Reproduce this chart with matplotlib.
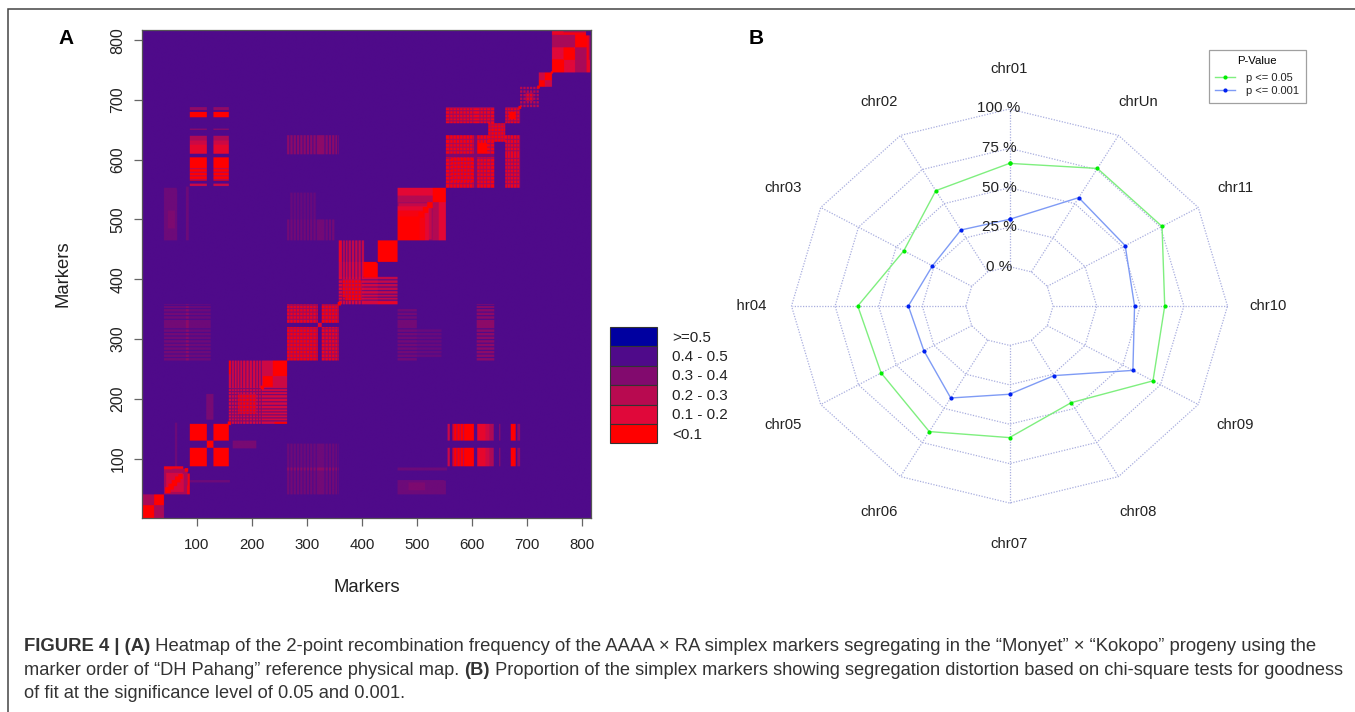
import numpy as np
import matplotlib
matplotlib.use("Agg")
import matplotlib.pyplot as plt
from matplotlib.colors import LinearSegmentedColormap, Normalize
from matplotlib.patches import Rectangle
from matplotlib.transforms import Bbox

plt.rcParams['font.family'] = ['Liberation Sans', 'DejaVu Sans']

# ---------- data ----------
N_MARKERS = 817
LEGEND_LABELS = [">=0.5", "0.4 - 0.5", "0.3 - 0.4", "0.2 - 0.3", "0.1 - 0.2", "<0.1"]
LEGEND_COLORS = ["#0000A0", "#4F0A8A", "#820A6E", "#B80A50", "#E0083A", "#FF0000"]
LEGEND_MIDS = [0.55, 0.45, 0.35, 0.25, 0.15, 0.05]
BACKGROUND = 0.45

# stripes (marker positions)
S_A = [560, 566, 572, 578, 584, 590, 596]
S_B = [559, 565, 571, 577, 583, 589, 595, 601, 614, 620, 626, 633]
S_C = [268, 274, 280, 286, 292, 298, 304, 310, 316, 332, 338, 344, 350, 355]
S_D = [162, 167, 172, 177, 182, 188, 194, 200, 206, 211, 216]
S_E = [364, 369, 374, 380, 386, 392, 398]
S_G = [664, 669, 675, 681, 686]
S_H = [634, 640, 646, 652, 657]
S_I = [692, 698, 704, 710, 716]

# x0, x1, y0, y1, value, x stripes, y stripes (mirrored around the diagonal)
WEAK_BLOCKS = [
    (264, 358, 610, 640, 0.34, S_C, ()),
    (264, 358, 40, 85, 0.33, S_C, ()),
    (465, 553, 40, 63, 0.39, (), ()),
    (480, 525, 42, 60, 0.34, (), ()),
    (465, 520, 83, 85, 0.36, (), ()),
    (40, 64, 465, 550, 0.39, (), ()),
    (47, 60, 485, 515, 0.36, (), ()),
    (80, 85, 465, 555, 0.39, (), ()),
    (40, 80, 264, 358, 0.38, (), S_C),
    (465, 545, 270, 318, 0.4, (), S_C),
    (609, 641, 264, 358, 0.33, (), S_C),
    (264, 350, 465, 500, 0.38, S_C, ()),
    (165, 208, 117, 130, 0.37, (), ()),
    (87, 160, 60, 64, 0.39, (), ()),
    (264, 358, 85, 125, 0.39, S_C, ()),
]
STRONG_BLOCKS = [
    # long-range links of the 87-158 group
    (87, 118, 671, 680, 0.05, (), ()), (130, 158, 671, 680, 0.05, (), ()),
    (87, 118, 683, 688, 0.32, (), ()), (130, 158, 683, 688, 0.32, (), ()),
    (87, 118, 650, 652, 0.32, (), ()), (130, 158, 650, 652, 0.32, (), ()),
    (87, 118, 632, 640, 0.27, (), ()), (130, 158, 632, 640, 0.27, (), ()),
    (87, 118, 625, 632, 0.2, (), ()), (130, 158, 625, 632, 0.2, (), ()),
    (87, 118, 610, 625, 0.13, (), ()), (130, 158, 610, 625, 0.13, (), ()),
    (87, 118, 589, 604, 0.05, (), ()), (130, 158, 589, 604, 0.05, (), ()),
    (87, 118, 565, 589, 0.05, (), S_A), (130, 158, 565, 589, 0.05, (), S_A),
    (87, 118, 556, 560, 0.2, (), ()), (130, 158, 556, 560, 0.2, (), ()),
    # first chromosome blocks
    (0, 22, 22, 40, 0.28, (), ()),
    (40, 78, 40, 83, 0.28, (), ()),
    (44, 74, 44, 76, 0.18, (), ()),
    (40, 75, 83, 87, 0.08, (), ()),
    (82, 87, 40, 55, 0.08, (), ()),
    (87, 118, 87, 118, 0.05, (), ()),
    (130, 158, 130, 158, 0.05, (), ()),
    (87, 118, 130, 158, 0.05, (), ()),
    (118, 130, 118, 130, 0.05, (), ()),
    # 158-264
    (158, 220, 158, 218, 0.16, S_D, S_D),
    (175, 208, 175, 208, 0.06, S_D, S_D),
    (158, 220, 220, 264, 0.2, S_D, ()),
    (220, 264, 158, 218, 0.18, (), S_D),
    (241, 264, 158, 161, 0.05, (), ()),
    (220, 238, 220, 238, 0.05, (), ()),
    (238, 264, 238, 264, 0.05, (), ()),
    (220, 238, 238, 264, 0.2, (), ()),
    # 264-358
    (264, 320, 264, 320, 0.07, S_C, S_C),
    (327, 358, 264, 320, 0.1, S_C, S_C),
    (264, 320, 327, 358, 0.1, S_C, S_C),
    (327, 358, 327, 358, 0.07, S_C, S_C),
    (320, 327, 320, 327, 0.12, (), ()),
    # 358-465
    (358, 404, 358, 403, 0.16, S_E, S_E),
    (370, 400, 365, 398, 0.05, S_E, S_E),
    (404, 429, 358, 403, 0.18, (), S_E),
    (404, 429, 403, 427, 0.05, (), ()),
    (358, 404, 429, 465, 0.28, S_E, ()),
    (429, 465, 358, 404, 0.22, (), S_E),
    (429, 465, 358, 363, 0.12, (), ()),
    (429, 465, 429, 465, 0.05, (), ()),
    # 465-553
    (465, 529, 465, 529, 0.3, (), ()),
    (467, 527, 467, 527, 0.22, (), ()),
    (465, 522, 465, 522, 0.14, (), ()),
    (465, 515, 465, 515, 0.08, (), ()),
    (465, 505, 465, 505, 0.05, (), ()),
    (529, 553, 465, 527, 0.3, (), ()),
    (538, 553, 465, 527, 0.22, (), ()),
    (546, 553, 465, 527, 0.13, (), ()),
    (529, 553, 465, 475, 0.1, (), ()),
    (465, 529, 540, 553, 0.14, (), ()),
    (465, 529, 529, 540, 0.26, (), ()),
    (529, 553, 529, 553, 0.05, (), ()),
    # 553-688
    (553, 641, 553, 641, 0.08, S_B, S_B),
    (563, 603, 563, 603, 0.05, S_A, S_A),
    (611, 628, 610, 627, 0.05, (), ()),
    (553, 641, 604, 610, 0.06, (), ()),
    (604, 610, 553, 641, 0.36, (), ()),
    (553, 641, 661, 688, 0.14, S_B, S_G),
    (563, 620, 668, 680, 0.06, S_B, ()),
    (661, 688, 553, 641, 0.1, S_G, S_B),
    (630, 661, 630, 661, 0.06, S_H, S_H),
    (661, 688, 661, 688, 0.1, S_G, S_G),
    (668, 680, 668, 680, 0.05, (), ()),
    # 688-816
    (688, 722, 688, 722, 0.24, S_I, S_I),
    (698, 712, 698, 712, 0.1, S_I, S_I),
    (722, 733, 722, 733, 0.05, (), ()),
    (733, 746, 733, 746, 0.05, (), ()),
    (722, 733, 733, 746, 0.2, (), ()),
    (746, 816, 746, 808, 0.28, (), ()),
    (746, 788, 746, 788, 0.15, (), ()),
    (746, 768, 746, 767, 0.05, (), ()),
    (768, 788, 767, 786, 0.05, (), ()),
    (788, 809, 788, 808, 0.05, (), ()),
    (746, 808, 809, 813, 0.08, (), ()),
    (810, 815, 746, 767, 0.12, (), ()),
    (0, 22, 0, 22, 0.05, (), ()),
    (22, 40, 22, 40, 0.05, (), ()),
]
DIAG_STEPS = [(42, 52, 0.05), (48, 58, 0.05), (54, 64, 0.05), (60, 70, 0.05),
              (66, 74, 0.05), (78, 84, 0.05), (156, 162, 0.05), (216, 222, 0.05),
              (356, 362, 0.05), (685, 690, 0.05), (719, 724, 0.05), (744, 748, 0.05),
              (503, 513, 0.05), (511, 521, 0.05), (519, 529, 0.05)]

CHROMS = ["chr01", "chr02", "chr03", "chr04", "chr05", "chr06",
          "chr07", "chr08", "chr09", "chr10", "chr11", "chrUn"]
P005 = [65.5, 59.5, 45, 62, 60, 67, 58.5, 45.8, 70, 64, 76, 75.8]
P0001 = [30, 30.7, 26, 33, 31.7, 42.4, 31, 26, 56.7, 46.7, 51.6, 54.4]
RING_LEVELS = [0, 25, 50, 75, 100]
RING_LABELS = ["0 %", "25 %", "50 %", "75 %", "100 %"]
SERIES_NAMES = ["p <= 0.05", "p <= 0.001"]

CAPTION = [
    [("FIGURE 4 | (A)", True),
     (" Heatmap of the 2-point recombination frequency of the AAAA \u00d7 RA simplex markers segregating in the \u201cMonyet\u201d \u00d7 \u201cKokopo\u201d progeny using the", False)],
    [("marker order of \u201cDH Pahang\u201d reference physical map. ", False), ("(B)", True),
     (" Proportion of the simplex markers showing segregation distortion based on chi-square tests for goodness", False)],
    [("of fit at the significance level of 0.05 and 0.001.", False)],
]
CAPTION_SIZES = [13.3, 13.15, 13.15]

# ---------- helpers ----------
W, H = 1355, 712
fig = plt.figure(figsize=(W / 100, H / 100), dpi=100, facecolor="white")


def axes_px(left, top, right, bottom, **kw):
    return fig.add_axes([left / W, 1 - bottom / H, (right - left) / W, (bottom - top) / H], **kw)


ov = axes_px(0, 0, W, H, zorder=0)
ov.set_xlim(0, W)
ov.set_ylim(H, 0)
ov.axis("off")

# outer frame
ov.plot([8, 8, W], [H, 9, 9], color="#444444", lw=1.1, solid_joinstyle="miter")

# ---------- heatmap ----------
M = np.full((N_MARKERS, N_MARKERS), BACKGROUND)


def put(x0, x1, y0, y1, v, sx=(), sy=()):
    raised = min(v + 0.2, BACKGROUND)
    for (a0, a1, b0, b1, sa, sb) in ((x0, x1, y0, y1, sx, sy), (y0, y1, x0, x1, sy, sx)):
        M[b0:b1, a0:a1] = v
        for s in sa:
            if a0 <= s < a1:
                M[b0:b1, s:s + 2] = raised
        for s in sb:
            if b0 <= s < b1:
                M[s:s + 2, a0:a1] = raised


for b in WEAK_BLOCKS + STRONG_BLOCKS:
    put(*b)
for a, b, v in DIAG_STEPS:
    put(a, b, a, b, v)

norm = Normalize(0.05, 0.55)
nodes = [(norm(v), c) for v, c in sorted(zip(LEGEND_MIDS, LEGEND_COLORS))]
cmap = LinearSegmentedColormap.from_list("rf", nodes)
ax = axes_px(142, 30, 591, 518, zorder=2)
ax.imshow(M, origin="lower", aspect="auto", extent=(0, N_MARKERS, 0, N_MARKERS),
          cmap=cmap, norm=norm, interpolation="hanning", interpolation_stage="rgba")
ax.set_xlim(0, N_MARKERS)
ax.set_ylim(0.5, N_MARKERS)
ticks = [100, 200, 300, 400, 500, 600, 700, 800]
ax.set_xticks(ticks, [str(t) for t in ticks])
ax.set_yticks(ticks, [str(t) for t in ticks])
ax.tick_params(axis="x", length=6, width=0.9, color="#666666", labelsize=10.8, pad=8.5, labelcolor="#222222")
ax.tick_params(axis="y", length=6, width=0.9, color="#666666", labelsize=11.5, pad=6, labelcolor="#222222")
for t in ax.get_yticklabels():
    t.set_rotation(90)
    t.set_va("center")
for s in ax.spines.values():
    s.set_color("#555555")
    s.set_linewidth(0.9)

ov.text(367, 587, "Markers", ha="center", va="center", fontsize=13.3, color="#222222")
ov.text(63, 274, "Markers", ha="center", va="center", rotation=90, fontsize=13.3, color="#222222")
ov.text(66, 38, "A", ha="center", va="center", fontsize=15, fontweight="bold", color="black")
ov.text(756, 38, "B", ha="center", va="center", fontsize=15, fontweight="bold", color="black")

# colour legend
sw_top, sw_h = 327, 19.4
for i, (lab, col) in enumerate(zip(LEGEND_LABELS, LEGEND_COLORS)):
    y = sw_top + i * sw_h
    ov.add_patch(Rectangle((610, y), 47, sw_h, facecolor=col, edgecolor="#333333", lw=0.8))
    ov.text(672, y + sw_h / 2 + 1, lab, ha="left", va="center", fontsize=11, color="#222222")

# ---------- radar ----------
CX, CY, RX, RY = 1009.5, 306, 218, 197
rad = axes_px(CX - RX, CY - RY, CX + RX, CY + RY, zorder=3)
rad.set_xlim(-1, 1)
rad.set_ylim(-1, 1)
rad.axis("off")
rad.patch.set_alpha(0)
n = len(CHROMS)
ang = np.pi / 2 + np.arange(n) * 2 * np.pi / n
R0 = 0.2


def radius(v):
    return R0 + (1 - R0) * np.asarray(v, dtype=float) / 100


GRID = "#A9AEDF"
for lev in RING_LEVELS:
    r = radius(lev)
    rad.plot(np.r_[r * np.cos(ang), r * np.cos(ang[0])], np.r_[r * np.sin(ang), r * np.sin(ang[0])],
             color=GRID, lw=0.9, ls=(0, (1, 1.2)), clip_on=False)
for a in ang:
    rad.plot([R0 * np.cos(a), np.cos(a)], [R0 * np.sin(a), np.sin(a)],
             color=GRID, lw=0.9, ls=(0, (1, 1.2)), clip_on=False)

handles = []
for vals, lc, mc, name in ((P005, "#7FEF7F", "#00EE00", SERIES_NAMES[0]),
                           (P0001, "#7F9BF5", "#0020F0", SERIES_NAMES[1])):
    r = radius(vals)
    h, = rad.plot(np.r_[r * np.cos(ang), r[0] * np.cos(ang[0])], np.r_[r * np.sin(ang), r[0] * np.sin(ang[0])],
                  color=lc, lw=1.0, marker="o", ms=3, mfc=mc, mew=0, clip_on=False, label=name)
    handles.append(h)

leg = rad.legend(handles=handles, title="P-Value", loc="upper left",
                 bbox_to_anchor=(1208.5 / W, 1 - 49.5 / H), bbox_transform=fig.transFigure,
                 fontsize=8, title_fontsize=8.2, frameon=True, fancybox=False, framealpha=1,
                 edgecolor="#A0A0A0", borderpad=0.6, labelspacing=0.25, handlelength=1.8,
                 handletextpad=1.0, borderaxespad=0)
leg.get_frame().set_linewidth(0.9)
leg._legend_box.sep = 5
for t in leg.get_texts():
    t.set_color("#222222")

LABEL_POS = [(1009, 69), (879, 102), (783, 188), (748, 306), (783, 425), (879, 512),
             (1009, 544), (1138, 512), (1235, 425), (1268, 306), (1235, 188), (1138, 102)]
for name, (x, y) in zip(CHROMS, LABEL_POS):
    t = ov.text(x, y, name, ha="center", va="center", fontsize=10.7, color="#222222", zorder=4)
    if name == "chr04":
        t.set_clip_on(True)
        t.set_clip_box(Bbox([[737, 0], [W, H]]))
for lab, y in zip(RING_LABELS, [267, 227, 188, 148, 108]):
    fig.text(999 / W, 1 - y / H, lab, ha="center", va="center", fontsize=11, color="#222222", zorder=6)

# ---------- caption ----------
fig.canvas.draw()
renderer = fig.canvas.get_renderer()
for line, base, size in zip(CAPTION, [651, 675, 698], CAPTION_SIZES):
    x = 24
    for txt, bold in line:
        t = ov.text(x, base, txt, ha="left", va="baseline", fontsize=size, color="#333333",
                    fontweight="bold" if bold else "normal")
        w, _, _ = renderer.get_text_width_height_descent(txt.replace(" ", "\u00a0"), t.get_fontproperties(), False)
        x += w

fig.savefig("out.png", dpi=100, facecolor="white")
